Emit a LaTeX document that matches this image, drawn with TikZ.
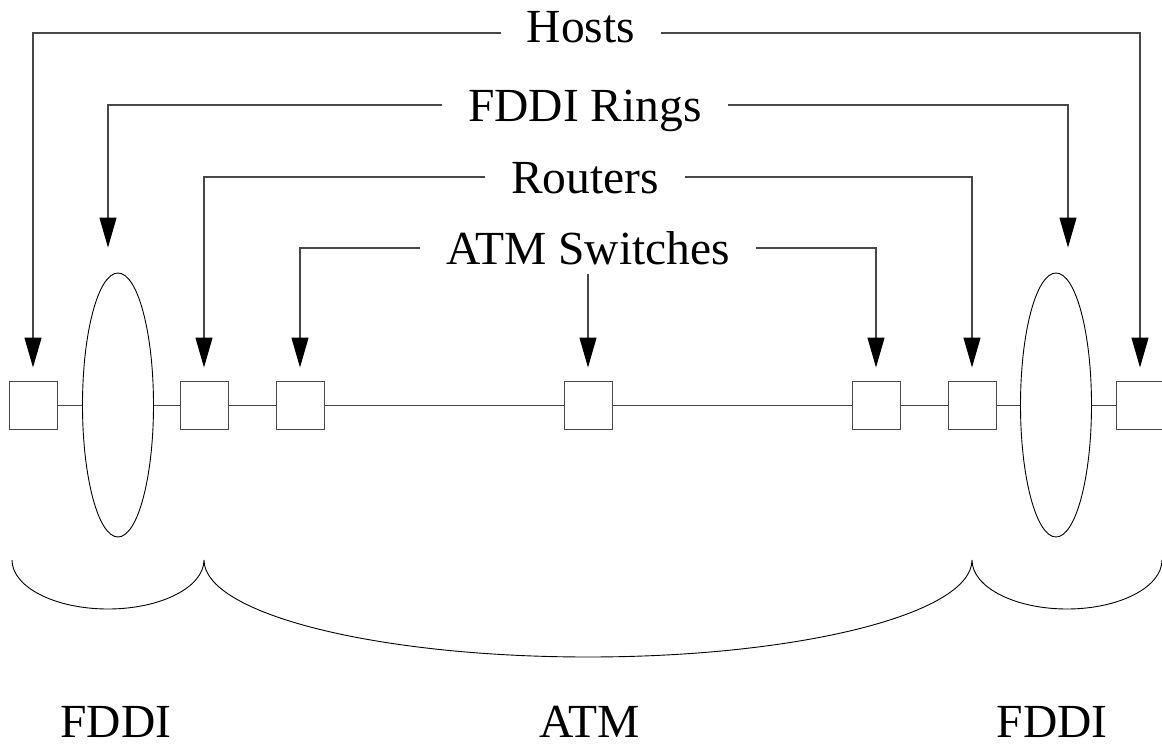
\documentclass[tikz,border=0pt]{standalone}
\usepackage{fontspec}
\setmainfont{Liberation Serif}
\usetikzlibrary{arrows.meta,shapes.geometric}

\begin{document}
\begin{tikzpicture}[x=1pt,y=-1pt,
    >={Triangle[length=30pt,width=17pt,color=black]},
    conn/.style={->,draw=black!72,line width=1.2pt,shorten >=13pt},
    lbl/.style={font=\fontsize{47.5}{57}\selectfont,text height=33pt,text depth=0pt,
      inner ysep=0pt,inner xsep=26pt},
    box/.style={draw=black!72,line width=1pt,minimum size=48pt,inner sep=0pt},
    ring/.style={ellipse,draw,line width=0.9pt,minimum width=71pt,minimum height=264pt,inner sep=0pt}]
    \def \rowy {405}
    \useasboundingbox (0,0) rectangle (1162,749);
    \foreach \name/\x in {h1/33,r1/204,s1/300,s2/588,s3/876,r2/972,h2/1140}
      \node[box] (\name) at (\x,\rowy) {};
    \node[ring] (ring1) at (118,\rowy) {};
    \node[ring] (ring2) at (1056,\rowy) {};
    \draw[black!72,line width=1pt] (h1) -- (ring1) -- (r1) -- (s1) -- (s2) -- (s3) -- (r2) -- (ring2) -- (h2);

    \node[lbl,text depth=14pt] (hosts) at (581,33) {Hosts}; % sits a little above its line
    \node[lbl] (rings) at (585,105) {FDDI Rings};
    \node[lbl] (routers) at (585,177) {Routers};
    \node[lbl] (switches) at (588,248) {ATM Switches};

    \draw[conn] (hosts.west) -| (h1.north);
    \draw[conn] (hosts.east) -| (h2.north);
    \draw[conn,shorten >=25pt] (rings.west) -| ([xshift=-10pt]ring1.north); % arrows sit off the ring centres
    \draw[conn,shorten >=25pt] (rings.east) -| ([xshift=12pt]ring2.north);
    \draw[conn] (routers.west) -| (r1.north);
    \draw[conn] (routers.east) -| (r2.north);
    \draw[conn] (switches.west) -| (s1.north);
    \draw[conn] (switches.east) -| (s3.north);
    \draw[conn,shorten <=9pt] (switches.south) -- (s2.north);

    \draw[line width=0.9pt] (12,560) arc[start angle=180,end angle=0,x radius=96,y radius=49]
      arc[start angle=180,end angle=0,x radius=384,y radius=97]
      arc[start angle=180,end angle=0,x radius=95,y radius=49];
    \node[lbl] (fddiL) at (116,721) {FDDI};
    \node[lbl] (atm) at (590,721) {ATM};
    \node[lbl] (fddiR) at (1052,721) {FDDI};
\end{tikzpicture}
\end{document}
